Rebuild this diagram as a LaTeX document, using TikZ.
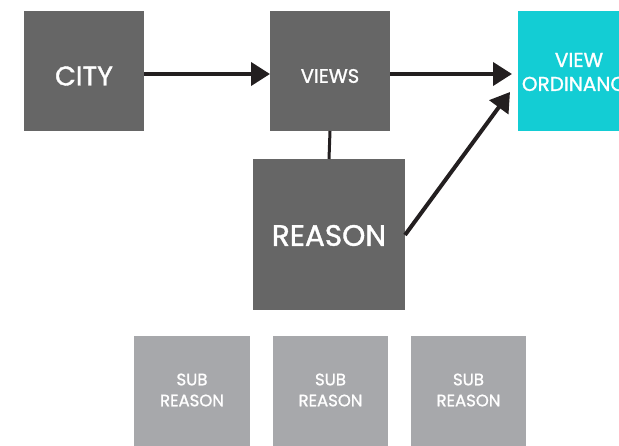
\documentclass[tikz,border=0pt]{standalone}
\usepackage{fontspec}
\setmainfont{Poppins}[FakeBold=1.3]
\usetikzlibrary{arrows.meta}
\definecolor{darkbox}{HTML}{666666}
\definecolor{cyanbox}{HTML}{13CDD4}
\definecolor{lightbox}{HTML}{A7A8AB}
\definecolor{lineblack}{HTML}{231F20}
\begin{document}
\begin{tikzpicture}[x=1pt,y=-1pt,
  box/.style={inner sep=0pt,outer sep=0pt,text=white,align=center},
  conn/.style={draw=lineblack,line width=4pt},
  arr/.style={conn,-{Triangle[length=19pt,width=23pt]}},
  txt/.style={text=white,align=center,inner sep=0pt}]
\useasboundingbox (0,0) rectangle (619,446);
\clip (0,0) rectangle (619,446);
\node[box,fill=darkbox,minimum width=120pt,minimum height=120pt,
  label={[txt,yshift=-5pt,font=\fontsize{27}{30}\selectfont]center:CITY}] (city) at (84,71) {};
\node[box,fill=darkbox,minimum width=120pt,minimum height=120pt,
  label={[txt,yshift=-5pt,font=\fontsize{19.5}{22}\selectfont]center:VIEWS}] (views) at (330,71) {};
\node[box,fill=cyanbox,minimum width=122pt,minimum height=120pt,
  label={[txt,yshift=-1pt,font=\fontsize{20}{24}\selectfont]center:VIEW\\ORDINANCE}] (ord) at (579,71) {};
\node[box,fill=darkbox,minimum width=152pt,minimum height=151pt,
  label={[txt,yshift=-1pt,font=\fontsize{29.5}{33}\selectfont]center:REASON}] (reason) at (329,234.5) {};
\node[box,fill=lightbox,minimum width=116pt,minimum height=112pt,
  label={[txt,yshift=2pt,font=\fontsize{16.5}{21}\selectfont]center:SUB\\REASON}] (s1) at (192,392) {};
\node[box,fill=lightbox,minimum width=115pt,minimum height=112pt,
  label={[txt,yshift=2pt,font=\fontsize{16.5}{21}\selectfont]center:SUB\\REASON}] (s2) at (330.5,392) {};
\node[box,fill=lightbox,minimum width=115pt,minimum height=112pt,
  label={[txt,yshift=2pt,font=\fontsize{16.5}{21}\selectfont]center:SUB\\REASON}] (s3) at (468.5,392) {};
\draw[arr] (city.east |- 0,74) -- (views.west |- 0,74);
\draw[arr] (views.east |- 0,74) -- ([xshift=-6pt]ord.west |- 0,74);
\draw[conn,line width=3pt] (views.south) -- (reason.north);
\coordinate (rs) at (405,235);
\coordinate (oe) at (510,92);
\draw[arr] (rs) -- (oe);
\end{tikzpicture}
\end{document}
